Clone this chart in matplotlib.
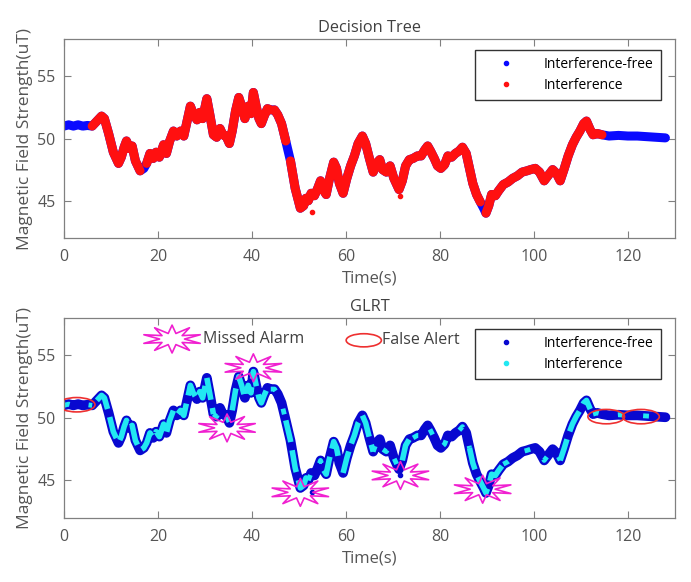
import matplotlib
matplotlib.use("Agg")
import matplotlib.pyplot as plt
from matplotlib.patches import Ellipse
from matplotlib.lines import Line2D
from matplotlib.path import Path
import numpy as np

plt.rcParams['font.family'] = ['Open Sans', 'DejaVu Sans']

# magnetic field trace (time in s, field in uT)
time_s = [0.0, 1.0, 2.0, 3.0, 4.0, 5.0, 6.0, 7.0, 8.0, 8.6, 9.5, 10.5, 11.6, 12.2, 12.8,
          13.3, 13.9, 14.5, 15.2, 16.2, 17.0, 17.6, 18.3, 19.0, 19.6, 20.3, 21.2, 21.8,
          22.5, 23.3, 24.0, 24.8, 25.5, 26.2, 26.9, 27.5, 28.3, 28.9, 29.5, 30.4, 31.0,
          31.8, 32.5, 33.2, 33.8, 34.5, 35.2, 35.8, 36.5, 37.2, 37.8, 38.5, 39.2, 39.8,
          40.3, 40.9, 41.5, 42.0, 42.6, 43.3, 44.0, 44.8, 45.5, 46.3, 47.2, 48.2, 49.2,
          50.3, 51.0, 51.5, 52.0, 52.6, 53.3, 54.0, 54.6, 55.3, 55.8, 56.4, 57.4, 58.0,
          58.6, 59.4, 60.2, 61.0, 61.8, 62.6, 63.5, 64.2, 65.0, 65.8, 66.5, 67.2, 67.8,
          68.6, 69.4, 70.2, 71.3, 72.0, 72.7, 73.5, 74.3, 75.2, 76.0, 76.8, 77.4, 78.0,
          78.8, 79.5, 80.2, 81.0, 81.7, 82.5, 83.3, 84.1, 84.8, 85.6, 86.3, 87.0, 87.8,
          88.6, 89.3, 89.8, 90.4, 91.0, 91.8, 92.5, 93.5, 94.5, 95.5, 96.5, 97.5, 98.5,
          99.3, 100.3, 101.2, 102.2, 103.0, 104.0, 104.8, 105.6, 106.4, 107.3, 108.2,
          109.0, 109.8, 110.6, 111.2, 112.0, 112.6, 113.5, 114.5, 116.0, 118.0, 120.0,
          122.0, 124.0, 126.0, 128.0]
field_ut = [51.0, 51.1, 51.0, 51.1, 51.0, 51.05, 51.0, 51.4, 51.8, 51.6, 50.4, 48.9, 48.0,
            48.5, 49.3, 49.8, 49.2, 49.4, 48.2, 47.4, 47.6, 48.0, 48.8, 48.4, 48.9, 48.5,
            49.5, 48.8, 49.8, 50.6, 50.2, 50.6, 50.2, 51.4, 52.6, 52.0, 51.5, 52.1, 51.6,
            53.2, 52.0, 50.3, 50.1, 50.8, 50.3, 50.2, 49.6, 50.6, 52.2, 53.3, 52.6, 51.6,
            52.6, 52.0, 53.7, 52.6, 51.6, 51.2, 51.8, 52.4, 52.3, 52.3, 51.9, 51.2, 49.8,
            48.2, 46.0, 44.4, 44.6, 45.2, 45.0, 45.6, 45.4, 46.0, 46.6, 45.8, 45.5, 46.6,
            48.1, 47.6, 46.4, 45.6, 46.8, 47.8, 48.6, 49.6, 50.2, 49.6, 48.4, 47.3, 48.0,
            48.3, 47.5, 47.3, 47.8, 46.8, 45.9, 46.6, 47.8, 48.3, 48.4, 48.6, 48.6, 49.1,
            49.4, 49.0, 48.4, 47.8, 47.6, 47.9, 48.6, 48.5, 48.8, 49.0, 49.3, 48.8, 47.6,
            46.4, 45.5, 44.9, 44.4, 44.0, 44.6, 45.5, 45.4, 45.8, 46.3, 46.5, 46.8, 47.0,
            47.3, 47.4, 47.5, 47.6, 47.3, 46.6, 47.0, 47.5, 47.2, 46.6, 47.5, 48.6, 49.5,
            50.1, 50.6, 51.2, 51.4, 50.7, 50.3, 50.4, 50.3, 50.2, 50.25, 50.2, 50.2, 50.15,
            50.1, 50.05]
outlier_t = [52.8, 71.6]
outlier_ut = [44.1, 45.4]

# spans labelled "Interference" by the decision tree
dt_interf_spans = [(6.0, 16.2), (17.6, 44.0), (44.8, 47.2), (48.2, 88.6), (89.8, 114.5)]
# spans where the GLRT output is mostly interference / mostly interference-free
glrt_dense_spans = [(7.0, 31.8), (35.8, 44.0), (47.2, 52.0), (55.3, 58.6), (59.4, 65.8),
                    (72.0, 74.3), (86.3, 93.5), (105.6, 112.0)]
glrt_sparse_spans = [(0.0, 6.0), (31.8, 35.8), (44.0, 47.2), (52.0, 55.3), (65.8, 72.0),
                     (74.3, 86.3), (93.5, 105.6), (112.6, 126.0)]

# annotation positions
missed_t = [40.3, 34.7, 50.3, 71.6, 89.1]
missed_ut = [54.0, 49.2, 44.05, 45.4, 44.3]
false_t = [2.7, 115.4, 122.8]
false_ut = [51.05, 50.1, 50.1]

BLUE = '#0a0aff'
RED = '#ff1010'
DBLUE = '#0808d0'
CYAN = '#22e8f2'
TXT = '#404040'
LBL = '#555555'
GRAY = '#808080'

t_arr = np.array(time_s)
v_arr = np.array(field_ut)


def pick(a, b):
    m = (t_arr >= a) & (t_arr <= b)
    return t_arr[m], v_arr[m]


def star_marker(n=10, inner=0.42, squash=0.47):
    ang = np.linspace(np.pi / 2, np.pi / 2 + 2 * np.pi, 2 * n + 1)
    r = np.where(np.arange(2 * n + 1) % 2 == 0, 1.0, inner)
    verts = np.column_stack([r * np.cos(ang), squash * r * np.sin(ang)])
    return Path(verts, closed=True)


def style_axes(ax, title):
    ax.set_xlim(0, 130)
    ax.set_ylim(42, 58)
    ax.set_xticks([0, 20, 40, 60, 80, 100, 120])
    ax.set_yticks([45, 50, 55])
    ax.tick_params(direction='in', length=5, color=GRAY, top=True, right=True,
                   labelsize=11.5, labelcolor=LBL)
    ax.tick_params(axis='x', pad=8)
    ax.tick_params(axis='y', pad=6)
    for s in ax.spines.values():
        s.set_color(GRAY)
        s.set_linewidth(0.9)
    ax.set_title(title, fontsize=11.8, color=TXT, pad=5)
    ax.set_xlabel('Time(s)', fontsize=12, color=LBL, labelpad=4)
    ax.set_ylabel('Magnetic Field Strength(uT)', fontsize=12.5, color=LBL, labelpad=3)


def add_legend(ax, c1, c2):
    h = [Line2D([], [], ls='none', marker='o', ms=3, color=c1),
         Line2D([], [], ls='none', marker='o', ms=3, color=c2)]
    ax.legend(h, ['Interference-free', 'Interference'], loc='upper right',
              bbox_to_anchor=(0.977, 0.945), fontsize=10, frameon=True, fancybox=False,
              edgecolor='#333333', framealpha=1, handlelength=3.5, handletextpad=1.0,
              borderpad=0.5, labelspacing=0.45, borderaxespad=0)


fig = plt.figure(figsize=(6.91, 5.82), dpi=100)
ax1 = fig.add_axes([0.0926, 0.591, 0.884, 0.342])
ax2 = fig.add_axes([0.0926, 0.110, 0.884, 0.344])

# --- Decision tree ---
ax1.plot(t_arr, v_arr, color=BLUE, lw=6.5, solid_capstyle='round', solid_joinstyle='round')
for a, b in dt_interf_spans:
    x, y = pick(a, b)
    ax1.plot(x, y, color=RED, lw=6.5, solid_capstyle='round', solid_joinstyle='round')
ax1.plot(outlier_t, outlier_ut, 'o', color=RED, ms=3)
style_axes(ax1, 'Decision Tree')
add_legend(ax1, BLUE, RED)

# --- GLRT ---
ax2.plot(t_arr, v_arr, color=DBLUE, lw=7, solid_capstyle='round', solid_joinstyle='round')
for a, b in glrt_dense_spans:
    x, y = pick(a, b)
    ax2.plot(x, y, color=CYAN, lw=4, dashes=(4, 1.5))
for a, b in glrt_sparse_spans:
    x, y = pick(a, b)
    ax2.plot(x, y, color=CYAN, lw=3.5, dashes=(1.2, 4))
ax2.plot(outlier_t, outlier_ut, 'o', color=DBLUE, ms=3)

star = star_marker()
ax2.scatter(missed_t, missed_ut, s=1650, marker=star, facecolors='none',
            edgecolors='#f020d0', linewidths=1.2, zorder=5)
ax2.scatter([23.0], [56.3], s=1650, marker=star, facecolors='none',
            edgecolors='#f020d0', linewidths=1.2, zorder=5)
ax2.text(29.5, 56.3, 'Missed Alarm', fontsize=11.5, color=TXT, va='center', ha='left')
for t, v in zip(false_t, false_ut):
    ax2.add_patch(Ellipse((t, v), 7.8, 1.15, fill=False, ec='#ee3030', lw=1.2, zorder=5))
ax2.add_patch(Ellipse((63.8, 56.2), 7.5, 1.05, fill=False, ec='#ee3030', lw=1.2, zorder=5))
ax2.text(67.6, 56.2, 'False Alert', fontsize=11.5, color=TXT, va='center', ha='left')

style_axes(ax2, 'GLRT')
add_legend(ax2, DBLUE, CYAN)

fig.savefig('out.png', dpi=100)
